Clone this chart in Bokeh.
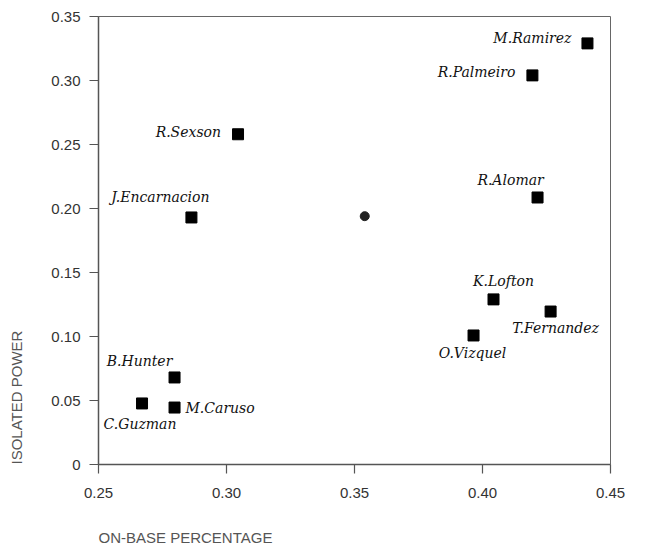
from bokeh.plotting import figure
from bokeh.models import Range1d, FixedTicker, CustomJSTickFormatter, ColumnDataSource, Title
from bokeh.core.properties import value
from bokeh.embed import file_html
from bokeh.resources import INLINE

# ---- data ----
players = ["M.Ramirez", "R.Palmeiro", "R.Alomar", "R.Sexson", "J.Encarnacion",
           "B.Hunter", "C.Guzman", "M.Caruso", "K.Lofton", "T.Fernandez", "O.Vizquel"]
on_base = [0.441, 0.4195, 0.4215, 0.3045, 0.2863, 0.2797, 0.267, 0.2797, 0.4043, 0.4266, 0.3965]
iso_power = [0.329, 0.304, 0.2086, 0.258, 0.193, 0.068, 0.0477, 0.0445, 0.129, 0.1195, 0.1008]
mean_obp = [0.354]
mean_iso = [0.194]
x_ticks = [0.25, 0.30, 0.35, 0.40, 0.45]
y_ticks = [0, 0.05, 0.10, 0.15, 0.20, 0.25, 0.30, 0.35]

# ---- label placement (style) ----
lab_align = ["right", "right", "center", "right", "center",
             "center", "center", "left", "center", "center", "center"]
lab_dx = [-16, -17, -27, -17, -31, -35, -2, 11, 10, 5, -1]
lab_dy = [-5, -3, -17, -2, -20, -16, 21, 0, -18, 16, 18]

src = ColumnDataSource(dict(x=on_base, y=iso_power, name=players,
                            align=lab_align, dx=lab_dx, dy=lab_dy))

W, H = 640, 548
p = figure(width=W, height=H, output_backend="svg", toolbar_location=None,
           x_range=Range1d(0.25, 0.45), y_range=Range1d(0, 0.35),
           min_border_left=98, min_border_top=16, min_border_right=30, min_border_bottom=84)

p.background_fill_color = "white"
p.border_fill_color = "white"
p.outline_line_color = "#666666"
p.outline_line_width = 1
p.xgrid.visible = False
p.ygrid.visible = False

fmt = CustomJSTickFormatter(code="return tick == 0 ? '0' : tick.toFixed(2);")
for ax, ticks in ((p.xaxis[0], x_ticks), (p.yaxis[0], y_ticks)):
    ax.ticker = FixedTicker(ticks=ticks)
    ax.formatter = fmt
    ax.minor_tick_line_color = None
    ax.axis_line_color = "#555555"
    ax.axis_line_width = 1.5
    ax.major_tick_line_color = "#555555"
    ax.major_tick_line_width = 1.2
    ax.major_tick_in = 0
    ax.major_tick_out = 9
    ax.major_label_text_font = "Liberation Sans"
    ax.major_label_text_font_size = "15px"
    ax.major_label_text_color = "#333333"
    # invisible axis label used only as spacing
    ax.axis_label = "."
    ax.axis_label_text_font = "Liberation Sans"
    ax.axis_label_text_font_size = "15px"
    ax.axis_label_text_color = None

p.xaxis.major_label_text_align = "left"
p.xaxis.major_label_standoff = 14
p.xaxis.axis_label_standoff = 13
p.yaxis.major_label_text_baseline = "alphabetic"
p.yaxis.major_label_standoff = 9
p.yaxis.axis_label_standoff = 11

p.scatter("x", "y", source=src, marker="square", size=11, color="black")
p.scatter(mean_obp, mean_iso, marker="circle", size=9, color="#222222")
p.text("x", "y", text="name", source=src, x_offset="dx", y_offset="dy",
       text_align="align", text_baseline="middle",
       text_font=value("DejaVu Serif"), text_font_style="italic",
       text_font_size="14px", text_color="#111111")

ylab = Title(text="ISOLATED POWER", align="left", standoff=0,
             text_font="Liberation Sans", text_font_size="15px",
             text_font_style="normal", text_color="#555555")
xlab = Title(text="ON-BASE PERCENTAGE", align="left", standoff=0,
             text_font="Liberation Sans", text_font_size="15px",
             text_font_style="normal", text_color="#555555")
p.add_layout(ylab, "left")
p.add_layout(xlab, "below")

open("out.html", "w").write(file_html(p, INLINE))
